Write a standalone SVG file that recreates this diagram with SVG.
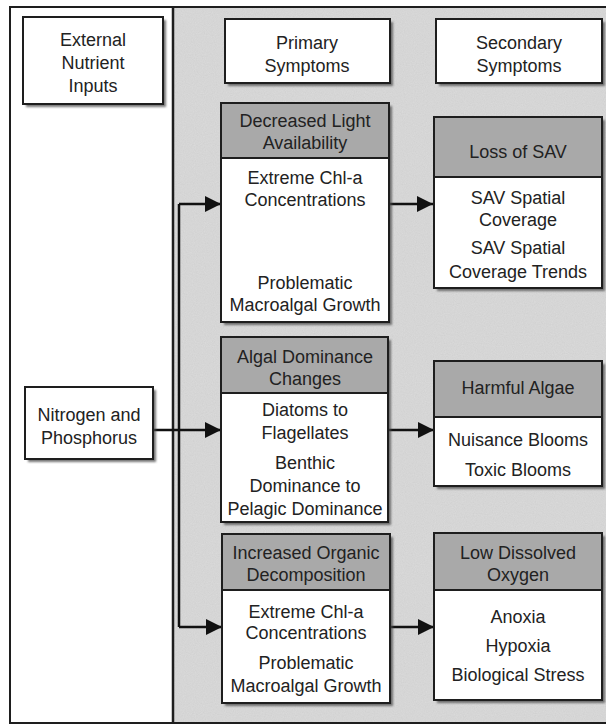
<svg xmlns="http://www.w3.org/2000/svg" width="606" height="726" viewBox="0 0 606 726">
  <style>
    .box { fill: #ffffff; stroke: #1e1e1e; stroke-width: 2; }
    .head { fill: #a9a9a9; stroke: #1e1e1e; stroke-width: 2; }
    .shadow { fill: #4a4a4a; opacity: 0.75; filter: url(#soft); }
    .t { font-family: "Liberation Sans", Arial, sans-serif; font-size: 18px; fill: #222222; text-anchor: middle; }
    .wire { fill: none; stroke: #111111; stroke-width: 2.5; }
  </style>
  <defs>
    <filter id="soft" x="-10%" y="-10%" width="120%" height="120%">
      <feGaussianBlur stdDeviation="0.8"/>
    </filter>
    <filter id="grain" x="0" y="0" width="100%" height="100%">
      <feTurbulence type="fractalNoise" baseFrequency="0.9" numOctaves="2" seed="3" result="n"/>
      <feColorMatrix in="n" type="matrix" values="0 0 0 0 0  0 0 0 0 0  0 0 0 0 0  0 0 0 0.12 0" result="dots"/>
      <feComposite in="dots" in2="SourceGraphic" operator="in" result="clip"/>
      <feMerge><feMergeNode in="SourceGraphic"/><feMergeNode in="clip"/></feMerge>
    </filter>
    <marker id="arrow" viewBox="0 0 16 16" refX="16" refY="8" markerWidth="16" markerHeight="16" markerUnits="userSpaceOnUse" orient="auto">
      <path d="M0,0 L16,8 L0,16 Z" fill="#111111"/>
    </marker>
  </defs>

  <!-- frame and panels -->
  <rect x="0" y="0" width="606" height="726" fill="#ffffff"/>
  <rect x="173" y="7" width="440" height="716" fill="#dcdcdc" filter="url(#grain)"/>
  <rect x="10" y="7" width="600" height="716" fill="none" stroke="#1e1e1e" stroke-width="2"/>
  <line x1="173" y1="7" x2="173" y2="723" stroke="#1e1e1e" stroke-width="2.5"/>

  <!-- connectors -->
  <g id="connectors">
    <path class="wire" d="M179,204 L179,627"/>
    <path class="wire" d="M179,204 L221,204" marker-end="url(#arrow)"/>
    <path class="wire" d="M153,430 L221,430" marker-end="url(#arrow)"/>
    <path class="wire" d="M179,627 L222,627" marker-end="url(#arrow)"/>
    <path class="wire" d="M389,204 L433,204" marker-end="url(#arrow)"/>
    <path class="wire" d="M388,430 L434,430" marker-end="url(#arrow)"/>
    <path class="wire" d="M390,627 L434,627" marker-end="url(#arrow)"/>
  </g>

  <g id="external-inputs">
    <rect class="shadow" x="26" y="20" width="140" height="87"/>
    <rect class="box" x="23" y="17" width="140" height="87"/>
    <text class="t" x="93" y="46">External</text>
    <text class="t" x="93" y="69">Nutrient</text>
    <text class="t" x="93" y="92">Inputs</text>
  </g>

  <g id="primary-symptoms">
    <rect class="shadow" x="228" y="22" width="165" height="64"/>
    <rect class="box" x="225" y="19" width="165" height="64"/>
    <text class="t" x="307" y="49">Primary</text>
    <text class="t" x="307" y="72">Symptoms</text>
  </g>

  <g id="secondary-symptoms">
    <rect class="shadow" x="439" y="22" width="166" height="64"/>
    <rect class="box" x="436" y="19" width="166" height="64"/>
    <text class="t" x="519" y="49">Secondary</text>
    <text class="t" x="519" y="72">Symptoms</text>
  </g>

  <g id="nitrogen-phosphorus">
    <rect class="shadow" x="28" y="390" width="128" height="72"/>
    <rect class="box" x="25" y="387" width="128" height="72"/>
    <text class="t" x="89" y="421">Nitrogen and</text>
    <text class="t" x="89" y="444">Phosphorus</text>
  </g>

  <g id="decreased-light">
    <rect class="shadow" x="224" y="106" width="168" height="219"/>
    <rect class="box" x="221" y="103" width="168" height="219"/>
    <rect class="head" x="221" y="103" width="168" height="55"/>
    <text class="t" x="305" y="127">Decreased Light</text>
    <text class="t" x="305" y="149">Availability</text>
    <text class="t" x="305" y="184">Extreme Chl-a</text>
    <text class="t" x="305" y="206">Concentrations</text>
    <text class="t" x="305" y="289">Problematic</text>
    <text class="t" x="305" y="311">Macroalgal Growth</text>
  </g>

  <g id="loss-of-sav">
    <rect class="shadow" x="437" y="120" width="168" height="171"/>
    <rect class="box" x="434" y="117" width="168" height="171"/>
    <rect class="head" x="434" y="117" width="168" height="60"/>
    <text class="t" x="518" y="158">Loss of SAV</text>
    <text class="t" x="518" y="204">SAV Spatial</text>
    <text class="t" x="518" y="226">Coverage</text>
    <text class="t" x="518" y="254">SAV Spatial</text>
    <text class="t" x="518" y="278">Coverage Trends</text>
  </g>

  <g id="algal-dominance">
    <rect class="shadow" x="224" y="340" width="167" height="185"/>
    <rect class="box" x="221" y="337" width="167" height="185"/>
    <rect class="head" x="221" y="337" width="167" height="56"/>
    <text class="t" x="305" y="363">Algal Dominance</text>
    <text class="t" x="305" y="385">Changes</text>
    <text class="t" x="305" y="416">Diatoms to</text>
    <text class="t" x="305" y="439">Flagellates</text>
    <text class="t" x="305" y="469">Benthic</text>
    <text class="t" x="305" y="492">Dominance to</text>
    <text class="t" x="305" y="515">Pelagic Dominance</text>
  </g>

  <g id="harmful-algae">
    <rect class="shadow" x="437" y="364" width="168" height="125"/>
    <rect class="box" x="434" y="361" width="168" height="125"/>
    <rect class="head" x="434" y="361" width="168" height="56"/>
    <text class="t" x="518" y="394">Harmful Algae</text>
    <text class="t" x="518" y="446">Nuisance Blooms</text>
    <text class="t" x="518" y="476">Toxic Blooms</text>
  </g>

  <g id="organic-decomposition">
    <rect class="shadow" x="225" y="537" width="168" height="169"/>
    <rect class="box" x="222" y="534" width="168" height="169"/>
    <rect class="head" x="222" y="534" width="168" height="56"/>
    <text class="t" x="306" y="559">Increased Organic</text>
    <text class="t" x="306" y="581">Decomposition</text>
    <text class="t" x="306" y="618">Extreme Chl-a</text>
    <text class="t" x="306" y="639">Concentrations</text>
    <text class="t" x="306" y="669">Problematic</text>
    <text class="t" x="306" y="692">Macroalgal Growth</text>
  </g>

  <g id="low-dissolved-oxygen">
    <rect class="shadow" x="437" y="536" width="168" height="167"/>
    <rect class="box" x="434" y="533" width="168" height="167"/>
    <rect class="head" x="434" y="533" width="168" height="57"/>
    <text class="t" x="518" y="559">Low Dissolved</text>
    <text class="t" x="518" y="581">Oxygen</text>
    <text class="t" x="518" y="623">Anoxia</text>
    <text class="t" x="518" y="652">Hypoxia</text>
    <text class="t" x="518" y="681">Biological Stress</text>
  </g>
</svg>
